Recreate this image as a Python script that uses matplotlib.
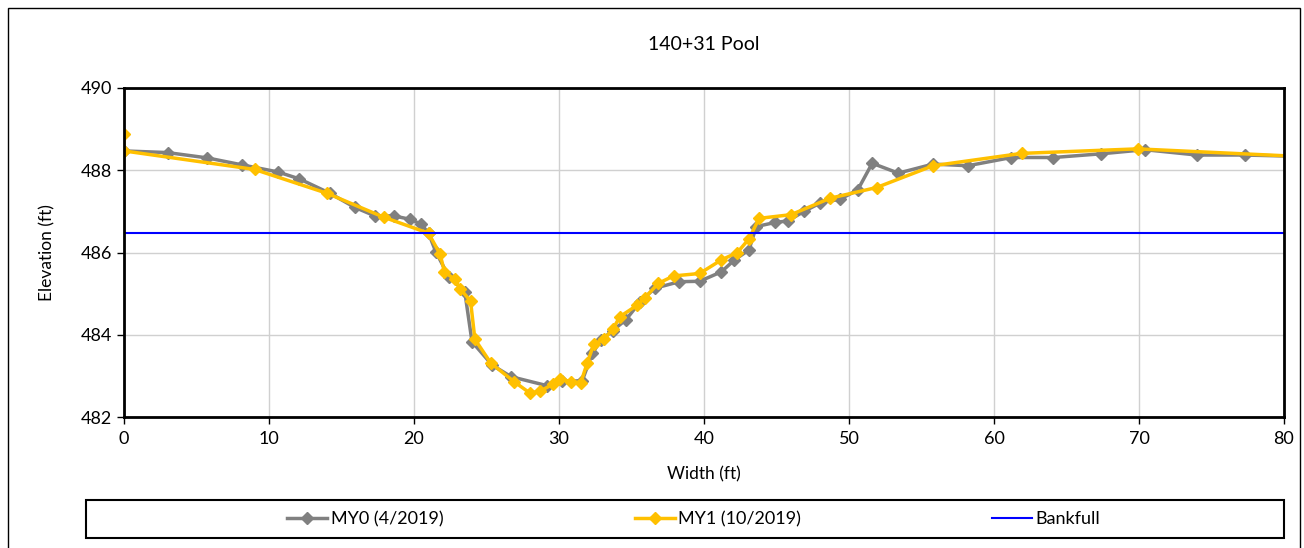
import matplotlib.pyplot as plt
from matplotlib.patches import Rectangle

plt.rcParams['font.family'] = ['Lato', 'DejaVu Sans']

# MY0 (4/2019) survey
x0 = [0, 3.0, 5.75, 8.15, 10.6, 12.1, 14.2, 15.9, 17.3, 18.6, 19.7, 20.5, 21.0,
      21.5, 22.4, 23.5, 24.0, 25.4, 26.7, 29.2, 30.2, 31.6, 32.3, 32.9, 33.7,
      34.6, 35.6, 36.6, 38.3, 39.7, 41.2, 42.1, 43.1, 43.6, 44.9, 45.8, 46.9,
      48.0, 49.4, 50.6, 51.6, 53.4, 55.8, 58.2, 61.2, 64.1, 67.4, 70.4, 74.0,
      77.3, 82.0]
y0 = [488.47, 488.43, 488.30, 488.13, 487.96, 487.79, 487.44, 487.10, 486.89,
      486.89, 486.81, 486.69, 486.47, 486.02, 485.41, 485.05, 483.83, 483.26,
      482.98, 482.76, 482.87, 482.88, 483.55, 483.87, 484.10, 484.36, 484.80,
      485.13, 485.29, 485.30, 485.53, 485.82, 486.06, 486.63, 486.73, 486.77,
      487.00, 487.20, 487.30, 487.52, 488.17, 487.93, 488.15, 488.11, 488.31,
      488.31, 488.40, 488.50, 488.37, 488.37, 488.33]

# MY1 (10/2019) survey
x1 = [0, 0, 9.0, 14.0, 17.9, 21.0, 21.8, 22.1, 22.8, 23.2, 23.9, 24.2, 25.3,
      26.9, 28.0, 28.7, 29.6, 30.1, 30.8, 31.5, 31.95, 32.4, 33.1, 33.7, 34.2,
      35.4, 35.9, 36.85, 37.9, 39.7, 41.2, 42.3, 43.1, 43.8, 46.0, 48.7, 51.9,
      55.8, 61.9, 69.9, 82.0]
y1 = [488.87, 488.47, 488.02, 487.44, 486.86, 486.47, 485.96, 485.53, 485.35,
      485.11, 484.82, 483.89, 483.31, 482.86, 482.58, 482.63, 482.80, 482.92,
      482.86, 482.83, 483.32, 483.77, 483.89, 484.13, 484.44, 484.72, 484.89,
      485.25, 485.43, 485.49, 485.82, 486.00, 486.33, 486.83, 486.92, 487.32,
      487.58, 488.11, 488.41, 488.52, 488.32]

bankfull = 486.47

fig = plt.figure(figsize=(13.04, 5.48), dpi=100)
ax = fig.add_axes([124/1304, 1-417/548, 1160/1304, 329/548])

ax.plot(x0, y0, color='#808080', lw=2.5, marker='D', ms=6.5, label='MY0 (4/2019)')
ax.plot(x1, y1, color='#FFC000', lw=2.5, marker='D', ms=6.5, label='MY1 (10/2019)')
ax.plot([0, 80], [bankfull, bankfull], color='#0000FF', lw=1.5, label='Bankfull')

ax.set_xlim(0, 80)
ax.set_ylim(482, 490)
ax.set_xticks(range(0, 81, 10))
ax.set_yticks(range(482, 491, 2))
ax.grid(True, color='#D0D0D0', lw=1)
ax.set_axisbelow(True)
for s in ax.spines.values():
    s.set_linewidth(2)
ax.tick_params(labelsize=13, length=5, width=1)
ax.tick_params(axis='x', pad=5)

ax.set_title('140+31 Pool', fontsize=14, pad=27)
ax.set_xlabel('Width (ft)', fontsize=12.5, labelpad=14)
ax.set_ylabel('Elevation (ft)', fontsize=12.5, labelpad=18)

# legend box under the chart
fig.patches.append(Rectangle((86/1304, 1-538/548), 1198/1304, 38/548,
                             transform=fig.transFigure, fill=False,
                             edgecolor='black', lw=1.5))
fig.legend(loc='center', bbox_to_anchor=(694/1304, 1-519/548), ncol=3,
           frameon=False, fontsize=13, handlelength=2.2, handletextpad=0.2,
           columnspacing=10.6)

# outer chart border
fig.patches.append(Rectangle((8/1304, -0.1), 1292/1304, 1.1-8/548,
                             transform=fig.transFigure, fill=False,
                             edgecolor='black', lw=1))

fig.savefig('out.png', dpi=100)
